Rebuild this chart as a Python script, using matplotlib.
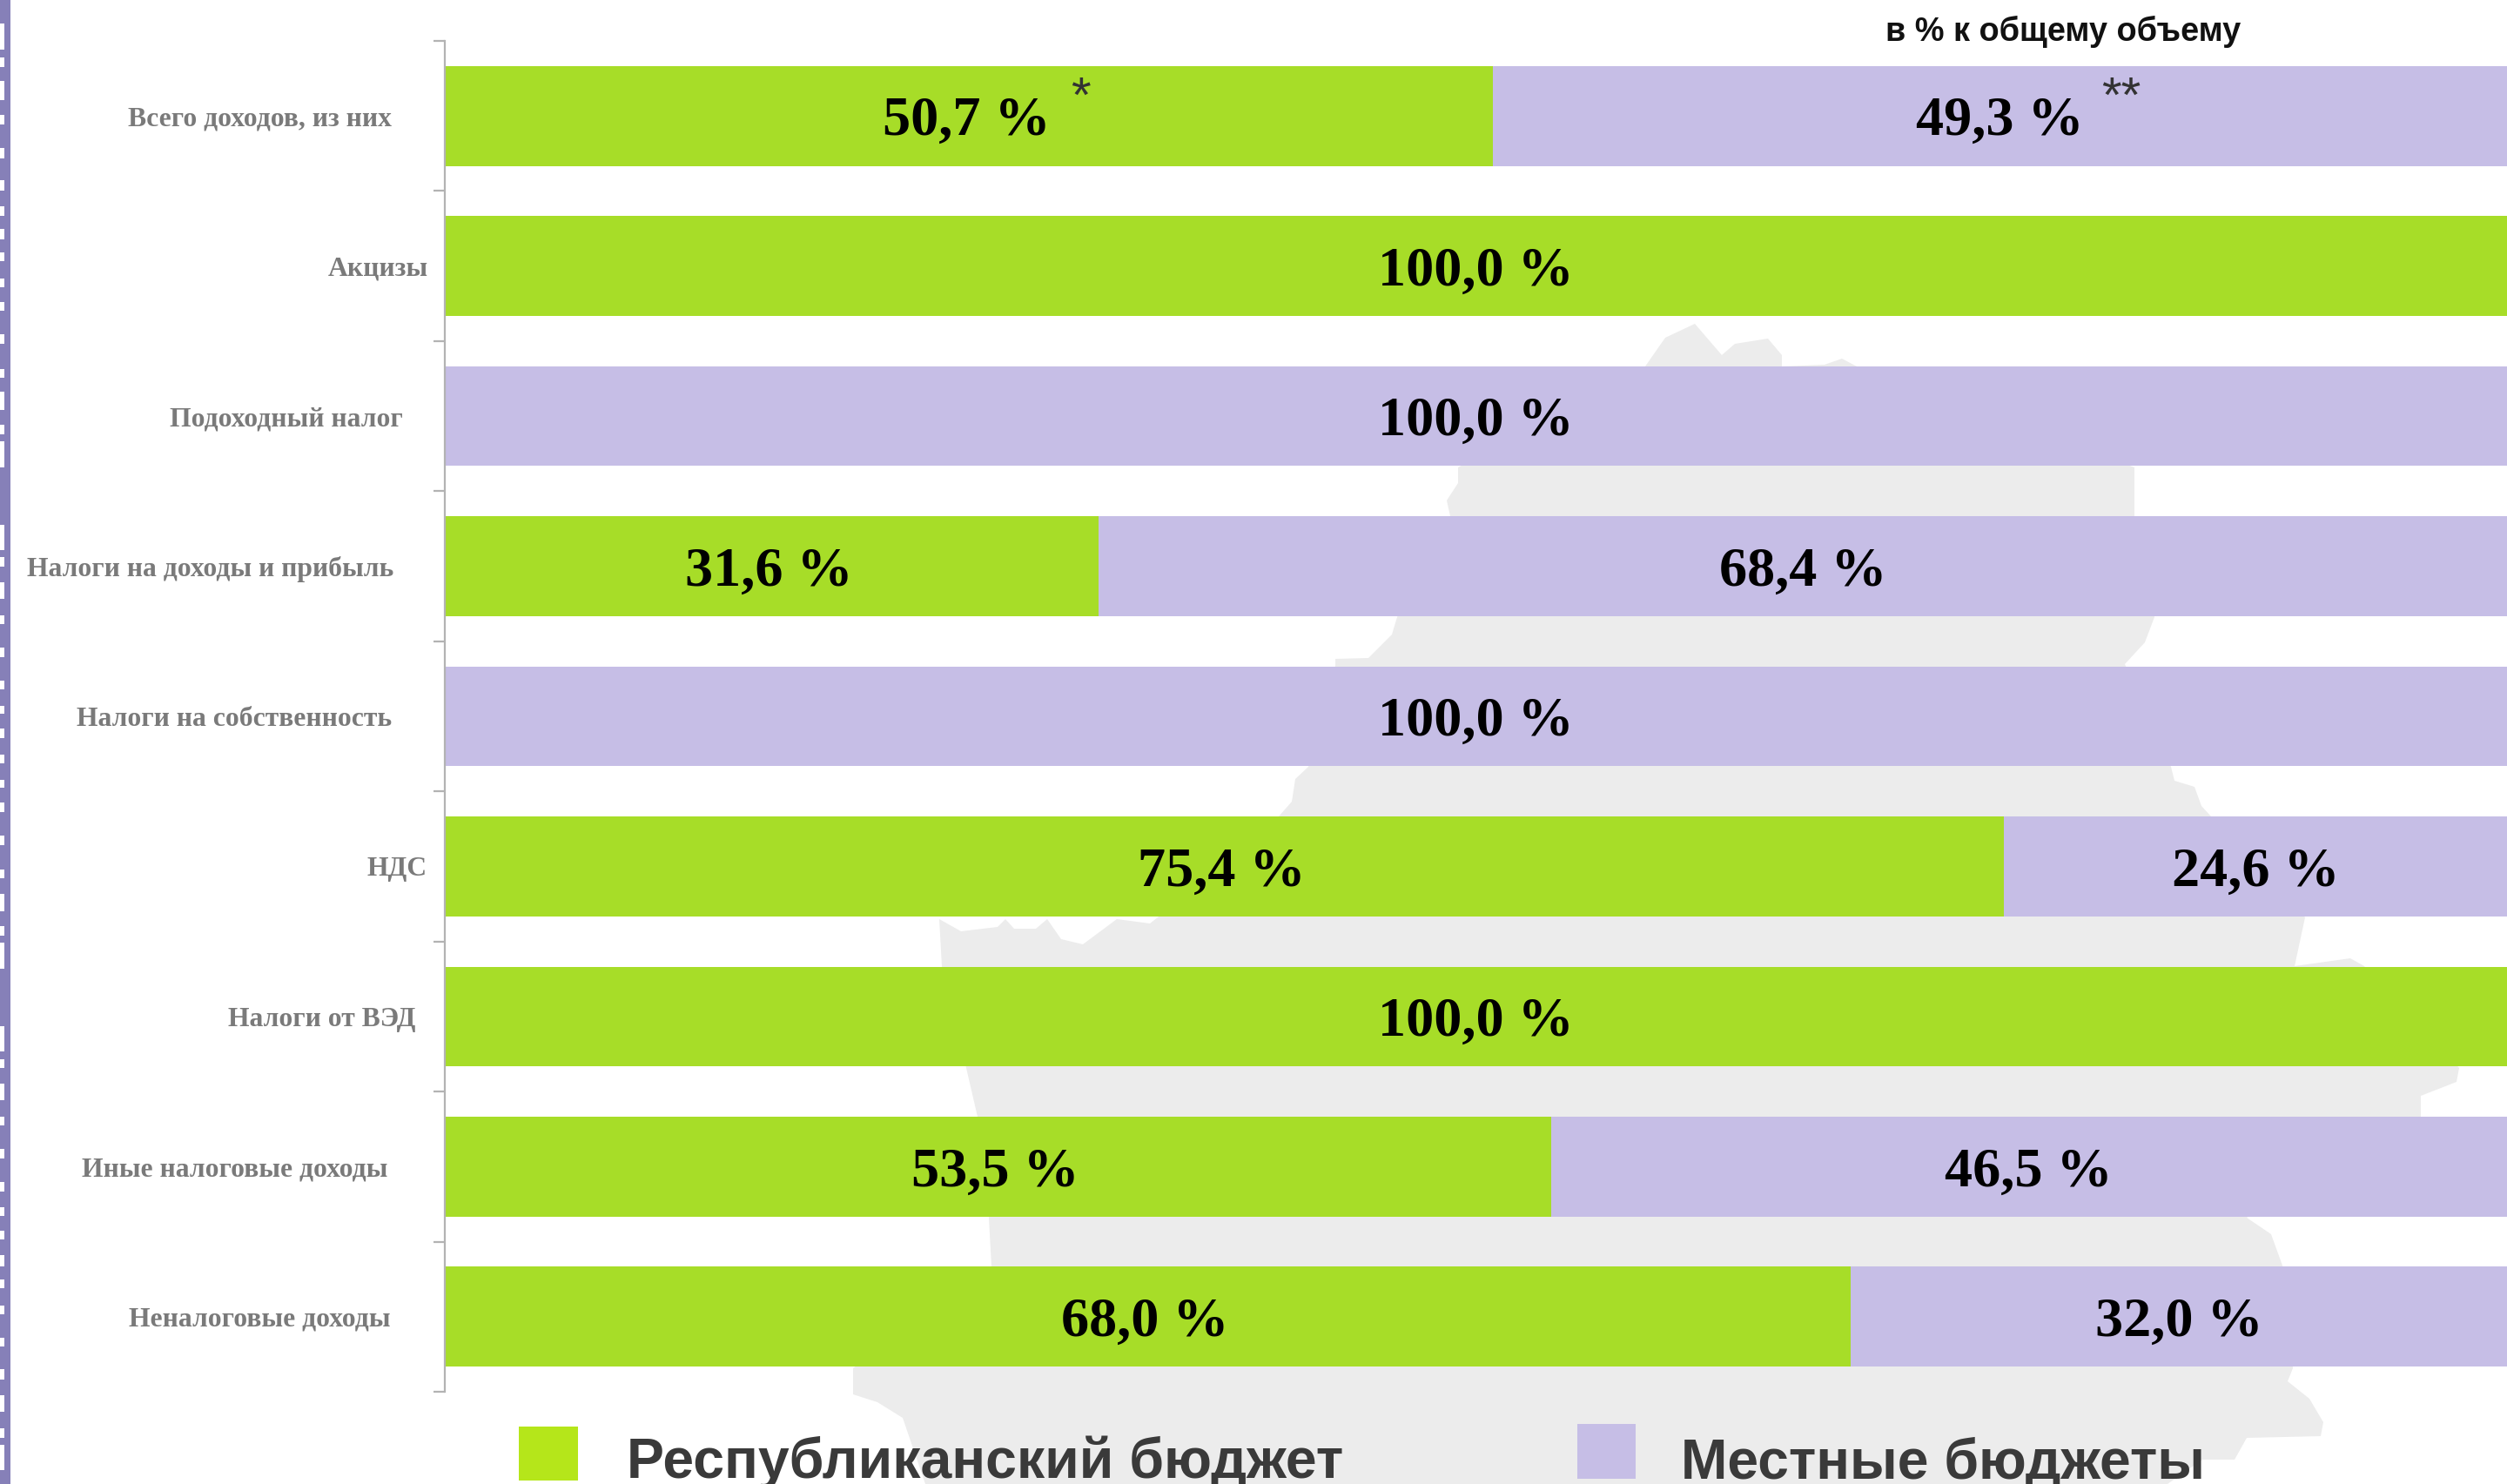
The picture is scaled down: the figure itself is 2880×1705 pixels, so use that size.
import matplotlib
matplotlib.use("Agg")
import numpy as np
import matplotlib.pyplot as plt
from matplotlib.patches import Polygon, Rectangle

W, H = 2880, 1705

categories = ["Всего доходов, из них", "Акцизы", "Подоходный налог",
              "Налоги на доходы и прибыль", "Налоги на собственность", "НДС",
              "Налоги от ВЭД", "Иные налоговые доходы", "Неналоговые доходы"]
republic = [50.7, 100.0, 0, 31.6, 0, 75.4, 100.0, 53.5, 68.0]
local = [49.3, 0, 100.0, 68.4, 100.0, 24.6, 0, 46.5, 32.0]
legend_names = ["Республиканский бюджет", "Местные бюджеты"]
unit_note = "в % к общему объему"

# right end of every category label, in picture pixels
label_right = [450, 492, 463, 452, 450, 491, 477, 445, 448]

green = "#a7dd28"
purple = "#c6bee6"

# grey country silhouette behind the bars, picture pixels
map_outline = [(1890, 421), (1913, 388), (1947, 372), (1978, 408), (1993, 395), (2031, 389),
               (2047, 408), (2047, 421), (2096, 419), (2116, 412), (2131, 420), (2452, 537),
               (2452, 593), (2475, 709), (2464, 738), (2441, 763), (2494, 881), (2498, 897),
               (2521, 904), (2529, 926), (2540, 938), (2648, 1054), (2636, 1110), (2700, 1101),
               (2716, 1110), (2825, 1227), (2822, 1243), (2781, 1259), (2781, 1283), (2581, 1399),
               (2609, 1418), (2622, 1454), (2634, 1572), (2628, 1587), (2653, 1607), (2669, 1634),
               (2666, 1650), (2581, 1652), (2567, 1677), (2530, 1677), (2490, 1705), (1063, 1705),
               (1037, 1629), (1008, 1611), (980, 1602), (980, 1572), (1139, 1455), (1136, 1399),
               (1123, 1283), (1110, 1227), (1082, 1110), (1079, 1056), (1104, 1070), (1146, 1065),
               (1155, 1056), (1165, 1067), (1190, 1067), (1203, 1056), (1219, 1079), (1244, 1085),
               (1283, 1056), (1321, 1061), (1330, 1054), (1469, 938), (1484, 921), (1488, 895),
               (1503, 881), (1534, 765), (1534, 757), (1572, 756), (1599, 729), (1605, 709),
               (1666, 593), (1662, 575), (1675, 555), (1675, 537)]

# white dashes of the page border, picture pixels
dashes = [(27, 57), (66, 77), (93, 115), (132, 143), (170, 182), (207, 219), (237, 248), (263, 275),
          (290, 300), (320, 330), (347, 357), (384, 395), (424, 434), (450, 471), (488, 499), (507, 537),
          (603, 632), (640, 651), (669, 688), (707, 717), (744, 755), (782, 792), (811, 820), (837, 848),
          (867, 877), (896, 905), (922, 933), (960, 971), (999, 1009), (1027, 1047), (1064, 1075),
          (1083, 1113), (1179, 1208), (1217, 1227), (1245, 1264), (1283, 1293), (1320, 1331), (1358, 1369),
          (1387, 1397), (1414, 1424), (1442, 1455), (1470, 1480), (1500, 1510), (1537, 1547), (1573, 1585),
          (1603, 1622), (1641, 1652), (1660, 1689)]

fig = plt.figure(figsize=(W / 100, H / 100), dpi=100, facecolor="white")

# whole-picture layer in pixels
bg = fig.add_axes([0, 0, 1, 1], zorder=0)
bg.set_xlim(0, W)
bg.set_ylim(H, 0)
bg.axis("off")
bg.add_patch(Polygon(map_outline, closed=True, fc="#ececec", ec="none"))

# left page border
bg.add_patch(Rectangle((0, 0), 12, H, fc="#8680b8", ec="none"))
for a, b in dashes:
    bg.add_patch(Rectangle((0, a), 4.5, b - a, fc="white", ec="none"))

# 100 % ends a little past the right edge of the picture
ax = fig.add_axes([511 / W, 1 - 1599 / H, (2886 - 511) / W, (1599 - 47) / H], zorder=1)
ax.patch.set_alpha(0)
y = np.arange(len(categories))
ax.barh(y, republic, height=0.665, color=green)
ax.barh(y, local, left=republic, height=0.665, color=purple)
ax.set_xlim(0, 100)
ax.set_ylim(len(categories) - 0.5, -0.5)

for s in ["top", "right", "bottom"]:
    ax.spines[s].set_visible(False)
ax.spines["left"].set_color("#b3b3b3")
ax.spines["left"].set_linewidth(1.6)
ax.set_xticks([])
ax.set_yticks(y, categories, family="Liberation Serif", fontweight="bold", fontsize=22.8, color="#7a7a7a")
ax.set_yticks(np.arange(len(categories) + 1) - 0.5, minor=True)
ax.tick_params(axis="y", which="major", length=0)
ax.tick_params(axis="y", which="minor", length=9.5, width=1.6, color="#b3b3b3")
for tick, r in zip(ax.yaxis.get_major_ticks(), label_right):
    tick.set_pad((511 - r) * 0.72)


def value_label(x, i, v):
    ax.annotate(f"{v:.1f} %".replace(".", ","), (x, i), xytext=(-3, -22), textcoords="offset pixels",
                ha="center", va="baseline", family="Liberation Serif", fontweight="bold",
                fontsize=46.2, color="black")


for i, (a, b) in enumerate(zip(republic, local)):
    if a > 0:
        value_label(a / 2, i, a)
    if b > 0:
        value_label(a + b / 2, i, b)

top = fig.add_axes([0, 0, 1, 1], zorder=2)
top.set_xlim(0, W)
top.set_ylim(H, 0)
top.axis("off")

# footnote marks next to the first bar
top.text(1241, 114, "*", ha="center", va="center", family="Liberation Sans", fontsize=42, color="#333333")
top.text(2437, 114, "**", ha="center", va="center", family="Liberation Sans", fontsize=42, color="#333333")
top.text(2370, 47, unit_note, ha="center", va="baseline", family="Liberation Sans", fontweight="bold",
         fontsize=27.3, color="#111111")

# legend
top.add_patch(Rectangle((596, 1639), 68, 62, fc="#b5e61a", ec="none"))
top.add_patch(Rectangle((1812, 1636), 67, 63, fc=purple, ec="none"))
top.text(720, 1698, legend_names[0], va="baseline", family="Liberation Sans", fontweight="bold",
         fontsize=46.4, color="#3a3a3a")
top.text(1931, 1698, legend_names[1], va="baseline", family="Liberation Sans", fontweight="bold",
         fontsize=46.2, color="#3a3a3a")

fig.savefig("out.png", dpi=100)
